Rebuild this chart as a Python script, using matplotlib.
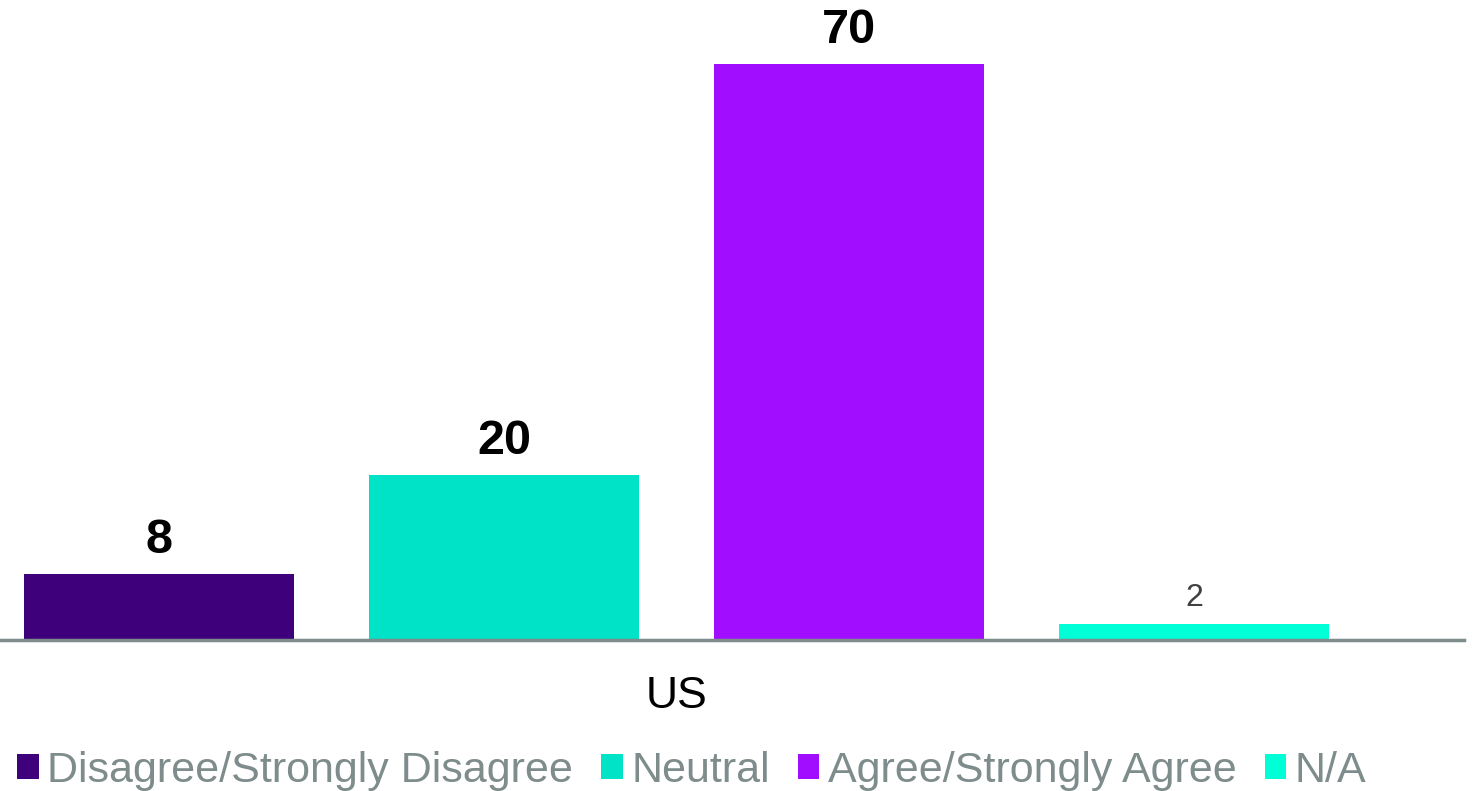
import matplotlib.pyplot as plt
from matplotlib.patches import Patch

category = 'US'
series = ['Disagree/Strongly Disagree', 'Neutral', 'Agree/Strongly Agree', 'N/A']
values = [8, 20, 70, 2]
colors = ['#3F007B', '#00E3C6', '#A10EFF', '#00FFD6']
bold_labels = [True, True, True, False]

plt.rcParams['font.family'] = ['Liberation Sans', 'DejaVu Sans']

fig = plt.figure(figsize=(14.78, 7.91), dpi=100)
ax = fig.add_axes([0, 151 / 791, 1464 / 1478, 640 / 791])

positions = list(range(len(values)))
bars = ax.bar(positions, values, width=0.7826, color=colors)

for b, v, isBold in zip(bars, values, bold_labels):
    if isBold:
        ax.text(b.get_x() + b.get_width() / 2, v + 1.4, str(v), ha='center', va='bottom',
                fontsize=35, fontweight='bold', color='black')
    else:
        ax.text(b.get_x() + b.get_width() / 2, v + 1.3, str(v), ha='center', va='bottom',
                fontsize=23, color='#404040')

ax.set_xlim(-0.4609, 3.7826)
ax.set_ylim(0, 77.8)
for s in ['top', 'right', 'left']:
    ax.spines[s].set_visible(False)
ax.spines['bottom'].set_color('#7F8C8C')
ax.spines['bottom'].set_linewidth(2.5)
ax.set_yticks([])
ax.set_xticks([1.5])
ax.set_xticklabels([category], fontsize=32)
ax.tick_params(axis='x', length=0, pad=26)

handles = [Patch(facecolor=c, label=s) for c, s in zip(colors, series)]
fig.legend(handles=handles, loc='center left', bbox_to_anchor=(17 / 1478, 20 / 791),
           ncol=4, frameon=False, fontsize=31, labelcolor='#7F8C8C',
           handlelength=0.5, handleheight=0.5, handletextpad=0.2, columnspacing=0.65,
           borderpad=0, borderaxespad=0)

fig.savefig('out.png', dpi=100)
